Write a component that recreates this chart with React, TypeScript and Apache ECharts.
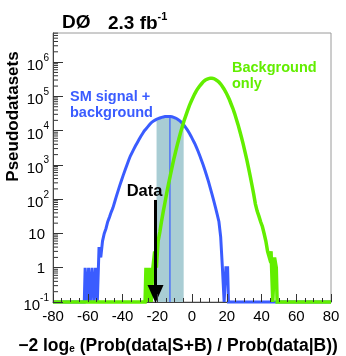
import React, { useEffect, useRef } from "react";
import * as echarts from "echarts";

// ---- axis ranges ----
const X_MIN = -80;
const X_MAX = 80;
const X_INTERVAL = 20;
const Y_MIN_DECADE = -1; // 10^-1
const Y_MAX_DECADE = 6.85;

// ---- SM signal + background pseudo-experiments: 1-unit bins from blueFirstEdge ----
const blueFirstEdge = -62;
const blueCounts = [
  1, 0, 1, 0, 1, 0, 1, 0, 4, 2,
  6, 10, 14, 22, 30, 42, 56, 83, 123, 178,
  257, 363, 513, 708, 977, 1350, 1820, 2290, 2880, 3630,
  4470, 5500, 6760, 8130, 9770, 11200, 12900, 14800, 17000, 18600,
  20000, 21400, 22400, 23400, 24500, 25100, 25700, 25700, 25700, 25700,
  25400, 24500, 23400, 21900, 20200, 18300, 16200, 14100, 12100, 10200,
  8400, 6800, 5400, 4300, 3300, 2500, 1850, 1350, 980, 690,
  475, 325, 215, 140, 91, 58, 36, 22, 8, 1,
  0, 1, 1,
];

// ---- background-only pseudo-experiments: 1-unit bins from greenFirstEdge ----
const greenFirstEdge = -27;
const greenCounts = [
  1, 0, 1, 0, 1, 3, 1, 6, 11, 23,
  45, 83, 155, 280, 490, 850, 1450, 2350, 3800, 5900,
  9100, 13500, 20000, 28000, 39000, 54000, 71000, 91000, 117000, 145000,
  174000, 204000, 234000, 269000, 295000, 316000, 331000, 339000, 339000, 331000,
  309000, 288000, 263000, 229000, 195000, 162000, 132000, 105000, 81000, 60000,
  45000, 32000, 22000, 15000, 9800, 6300, 4000, 2400, 1450, 830,
  470, 260, 140, 72, 45, 32, 22, 16, 10, 6,
  3, 2, 3, 0, 2, 1,
];

// ---- annotations ----
const bandLow = -20.4;
const bandHigh = -4.8;
const blueMedian = -12.7;
const observedData = -21;
const arrowTopCount = 95;

const BLUE = "#3a5cff";
const GREEN = "#62ee00";
const BAND = "#a9cdd4";
const FONT = '"Liberation Sans", Arial, Helvetica, sans-serif';

const toLog = (c: number) => (c > 0 ? Math.log10(c) : Y_MIN_DECADE);

function histPoints(first: number, counts: number[]) {
  const pts: number[][] = [[X_MIN, Y_MIN_DECADE], [first, Y_MIN_DECADE]];
  counts.forEach((c, i) => pts.push([first + i + 0.5, toLog(c)]));
  pts.push([first + counts.length, Y_MIN_DECADE]);
  pts.push([X_MAX, Y_MIN_DECADE]);
  return pts;
}

const bluePts = histPoints(blueFirstEdge, blueCounts);
const greenPts = histPoints(greenFirstEdge, greenCounts);

function valueAt(pts: number[][], x: number) {
  for (let i = 1; i < pts.length; i++) {
    const a = pts[i - 1];
    const b = pts[i];
    if (x >= a[0] && x <= b[0]) {
      const t = b[0] === a[0] ? 0 : (x - a[0]) / (b[0] - a[0]);
      return a[1] + t * (b[1] - a[1]);
    }
  }
  return Y_MIN_DECADE;
}

function bandPoints() {
  const pts: number[][] = [[bandLow, valueAt(bluePts, bandLow)]];
  bluePts.forEach((p) => {
    if (p[0] > bandLow && p[0] < bandHigh) pts.push(p);
  });
  pts.push([bandHigh, valueAt(bluePts, bandHigh)]);
  return pts;
}

const minorTickValues: number[][] = [];
for (let n = -1; n <= 6; n++) {
  for (let k = 2; k <= 9; k++) {
    const v = n + Math.log10(k);
    if (v < Y_MAX_DECADE) minorTickValues.push([X_MIN, v]);
  }
}

export default function App() {
  const ref = useRef<HTMLDivElement>(null);
  useEffect(() => {
    document.body.style.margin = "0";
    const chart = echarts.init(ref.current!, undefined, { renderer: "svg" });
    const option: any = {
      animation: false,
      textStyle: { fontFamily: FONT },
      grid: {
        left: 53,
        right: 15,
        top: 33,
        bottom: 54,
        show: true,
        borderColor: "#9a9a9a",
        borderWidth: 1,
        backgroundColor: "transparent",
        containLabel: false,
        outerBoundsMode: "none",
      },
      xAxis: [
        {
          type: "value",
          min: X_MIN,
          max: X_MAX,
          interval: X_INTERVAL,
          position: "bottom",
          axisLine: { show: true, onZero: false, lineStyle: { color: "#444", width: 1 } },
          axisTick: { show: false },
          minorTick: { show: false },
          splitLine: { show: false },
          axisLabel: { fontSize: 15, color: "#000", margin: 6, fontFamily: FONT },
        },
        {
          type: "value",
          min: X_MIN,
          max: X_MAX,
          interval: X_INTERVAL,
          position: "bottom",
          z: 10,
          axisLine: { show: false, onZero: false },
          axisLabel: { show: false },
          splitLine: { show: false },
          axisTick: { show: true, inside: true, length: 8, lineStyle: { color: "#333", width: 1 } },
          minorTick: { show: true, splitNumber: 4, length: 4, lineStyle: { color: "#333", width: 1 } },
        },
      ],
      yAxis: {
        type: "value",
        min: Y_MIN_DECADE,
        max: Y_MAX_DECADE,
        interval: 1,
        z: 10,
        axisLine: { show: true, onZero: false, lineStyle: { color: "#444", width: 1 } },
        axisTick: { show: true, inside: true, length: 10, lineStyle: { color: "#333", width: 1 } },
        splitLine: { show: false },
        axisLabel: {
          margin: 4,
          color: "#000",
          fontSize: 15,
          fontFamily: FONT,
          showMaxLabel: false,
          formatter: (v: number) => {
            const r = Math.round(v);
            if (Math.abs(v - r) > 1e-6) return "";
            if (r === 0) return "{p|1}";
            if (r === 1) return "{p|10}";
            return "{b|10}{s|" + r + "}";
          },
          rich: {
            p: { fontSize: 15, color: "#000", fontFamily: FONT, padding: [0, 4, 0, 0] },
            b: { fontSize: 15, color: "#000", fontFamily: FONT, lineHeight: 20, verticalAlign: "bottom" },
            s: { fontSize: 10, color: "#000", fontFamily: FONT, lineHeight: 12, verticalAlign: "top" },
          },
        },
      },
      series: [
        {
          type: "line",
          name: "band",
          data: bandPoints(),
          symbol: "none",
          lineStyle: { width: 0 },
          areaStyle: { color: BAND, opacity: 1, origin: "start" },
          silent: true,
          z: 1,
        },
        {
          type: "line",
          name: "median",
          data: [
            [blueMedian, Y_MIN_DECADE],
            [blueMedian, valueAt(bluePts, blueMedian)],
          ],
          symbol: "none",
          lineStyle: { color: BLUE, width: 1.2 },
          silent: true,
          z: 2,
        },
        {
          type: "line",
          name: "SM signal + background",
          data: bluePts,
          symbol: "none",
          clip: false,
          lineStyle: { color: BLUE, width: 3, join: "miter" },
          silent: true,
          z: 3,
        },
        {
          type: "line",
          name: "Background only",
          data: greenPts,
          symbol: "none",
          clip: false,
          lineStyle: { color: GREEN, width: 3.5, join: "miter" },
          silent: true,
          z: 4,
        },
        {
          type: "custom",
          name: "data arrow",
          data: [[observedData, Math.log10(arrowTopCount)]],
          z: 6,
          silent: true,
          renderItem: (params: any, api: any) => {
            const top = api.coord([api.value(0), api.value(1)]);
            const bot = api.coord([api.value(0), Y_MIN_DECADE]);
            const headH = 18;
            const headW = 16;
            return {
              type: "group",
              children: [
                {
                  type: "line",
                  shape: { x1: top[0], y1: top[1], x2: bot[0], y2: bot[1] - headH + 2 },
                  style: { stroke: "#000", lineWidth: 3 },
                },
                {
                  type: "polygon",
                  shape: {
                    points: [
                      [bot[0] - headW / 2, bot[1] - headH + 1],
                      [bot[0] + headW / 2, bot[1] - headH + 1],
                      [bot[0], bot[1] + 1],
                    ],
                  },
                  style: { fill: "#000" },
                },
              ],
            };
          },
        },
        {
          type: "custom",
          name: "log minor ticks",
          data: minorTickValues,
          z: 10,
          silent: true,
          clip: false,
          renderItem: (params: any, api: any) => {
            const p = api.coord([api.value(0), api.value(1)]);
            return {
              type: "line",
              shape: { x1: p[0], y1: p[1], x2: p[0] + 5, y2: p[1] },
              style: { stroke: "#333", lineWidth: 1 },
            };
          },
        },
      ],
      graphic: [
        {
          type: "text",
          z: 100,
          x: 62,
          y: 21,
          style: { text: "DØ", fontSize: 19, fontWeight: "bold", fontFamily: FONT, fill: "#000", align: "left", verticalAlign: "middle" },
        },
        {
          type: "text",
          z: 100,
          x: 108,
          y: 21,
          style: {
            text: "{b|2.3 fb}{s|-1}",
            fontFamily: FONT,
            fill: "#000",
            align: "left",
            verticalAlign: "middle",
            rich: {
              b: { fontSize: 19, fontWeight: "bold", fontFamily: FONT, fill: "#000", lineHeight: 22, verticalAlign: "bottom" },
              s: { fontSize: 11, fontWeight: "bold", fontFamily: FONT, fill: "#000", lineHeight: 14, verticalAlign: "top" },
            },
          },
        },
        {
          type: "text",
          z: 100,
          x: 12,
          y: 116.5,
          rotation: Math.PI / 2,
          style: { text: "Pseudodatasets", fontSize: 17, fontWeight: "bold", fontFamily: FONT, fill: "#000", align: "center", verticalAlign: "middle" },
        },
        {
          type: "text",
          z: 100,
          x: 178,
          y: 344.5,
          style: {
            text: "−2 log{sub|e} (Prob(data|S+B) / Prob(data|B))",
            fontSize: 17.5,
            fontWeight: "bold",
            fontFamily: FONT,
            fill: "#000",
            align: "center",
            verticalAlign: "middle",
            rich: {
              sub: { fontSize: 10, fontWeight: "bold", fontFamily: FONT, fill: "#000", lineHeight: 8, verticalAlign: "bottom" },
            },
          },
        },
        {
          type: "text",
          z: 100,
          x: 70,
          y: 104.2,
          style: {
            text: "SM signal +\nbackground",
            fontSize: 14.5,
            lineHeight: 16.4,
            fontWeight: "bold",
            fontFamily: FONT,
            fill: BLUE,
            align: "left",
            verticalAlign: "middle",
          },
        },
        {
          type: "text",
          z: 100,
          x: 232,
          y: 74.8,
          style: {
            text: "Background\nonly",
            fontSize: 14.5,
            lineHeight: 16.4,
            fontWeight: "bold",
            fontFamily: FONT,
            fill: GREEN,
            align: "left",
            verticalAlign: "middle",
          },
        },
        {
          type: "text",
          z: 100,
          x: 144.5,
          y: 190,
          style: { text: "Data", fontSize: 16.5, fontWeight: "bold", fontFamily: FONT, fill: "#000", align: "center", verticalAlign: "middle" },
        },
      ],
    };
    chart.setOption(option);
    return () => chart.dispose();
  }, []);
  return <div ref={ref} style={{ position: "fixed", left: 0, top: 0, width: 346, height: 356 }} />;
}
